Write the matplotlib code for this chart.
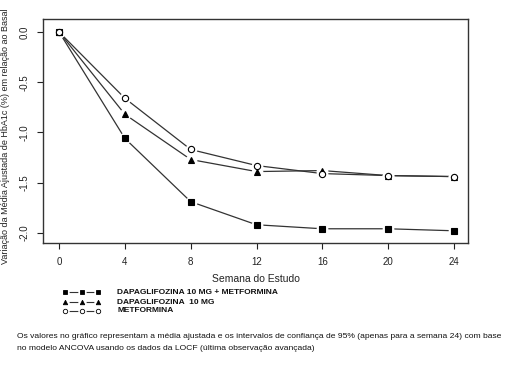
import matplotlib
matplotlib.use("Agg")
import matplotlib.pyplot as plt

plt.rcParams['font.family'] = ['Liberation Sans', 'DejaVu Sans']

# dados
semanas = [0, 4, 8, 12, 16, 20, 24]
dapa_met = [0.0, -1.06, -1.69, -1.92, -1.96, -1.96, -1.98]
dapa_10 = [0.0, -0.82, -1.27, -1.39, -1.38, -1.43, -1.44]
metformina = [0.0, -0.66, -1.17, -1.33, -1.41, -1.43, -1.44]
nomes = ["DAPAGLIFOZINA 10 MG + METFORMINA", "DAPAGLIFOZINA  10 MG", "METFORMINA"]
y_ticks = [0.0, -0.5, -1.0, -1.5, -2.0]

series = [(dapa_met, 's', 'black', 4.5), (dapa_10, '^', 'black', 4.5), (metformina, 'o', 'white', 4.5)]

fig = plt.figure(figsize=(5.08, 3.73), dpi=100)
ax = fig.add_axes([0.085, 0.349, 0.836, 0.60])

for vals, mk, fc, ms in series:
    ax.plot(semanas, vals, '-', color='#333333', lw=0.9, zorder=2)
    # halo branco para o estilo "b" (linha interrompida nos pontos)
    ax.plot(semanas, vals, 'o', color='white', ms=ms + 4, mec='none', zorder=3)
for vals, mk, fc, ms in series:
    ax.plot(semanas, vals, mk, mfc=fc, mec='black', mew=0.8, ms=ms, ls='none', zorder=4)

ax.set_xlim(-0.97, 24.85)
ax.set_ylim(-2.10, 0.13)
ax.set_xticks(semanas)
ax.set_xticklabels([str(s) for s in semanas])
ax.set_yticks(y_ticks)
ax.set_yticklabels(["%.1f" % v for v in y_ticks], rotation=90, va='center')
ax.tick_params(labelsize=7, length=4, width=0.8, colors='#222222', pad=6)
for sp in ax.spines.values():
    sp.set_linewidth(1.0)
    sp.set_color('#333333')
ax.set_xlabel("Semana do Estudo", fontsize=7.5, color='#222222', labelpad=5)
ax.set_ylabel("Variação da Média Ajustada de HbA1c (%) em relação ao Basal", fontsize=6.5, color='#222222')
ax.yaxis.set_label_coords(-0.077, 0.475)

# legenda manual
leg = fig.add_axes([0, 0, 1, 1], facecolor='none')
leg.set_xlim(0, 508)
leg.set_ylim(373, 0)
leg.axis('off')
rows = [292, 302, 311]
for (vals, mk, fc, ms), nome, yy in zip(series, nomes, rows):
    leg.plot([65, 82, 98], [yy, yy, yy], '-', color='#333333', lw=0.8)
    leg.plot([65, 82, 98], [yy, yy, yy], 'o', color='white', ms=6, mec='none')
    leg.plot([65, 82, 98], [yy, yy, yy], mk, mfc=fc, mec='black', mew=0.6, ms=3.2, ls='none')
    leg.text(117, yy, nome, fontsize=6.0, fontweight='bold', va='center', ha='left', color='#111111')

nota = ["Os valores no gráfico representam a média ajustada e os intervalos de confiança de 95% (apenas para a semana 24) com base",
        "no modelo ANCOVA usando os dados da LOCF (última observação avançada)"]
leg.text(17, 337, nota[0], fontsize=6.1, va='center', ha='left', color='#111111')
leg.text(17, 349, nota[1], fontsize=6.1, va='center', ha='left', color='#111111')

fig.savefig("out.png", dpi=100, facecolor='white')
